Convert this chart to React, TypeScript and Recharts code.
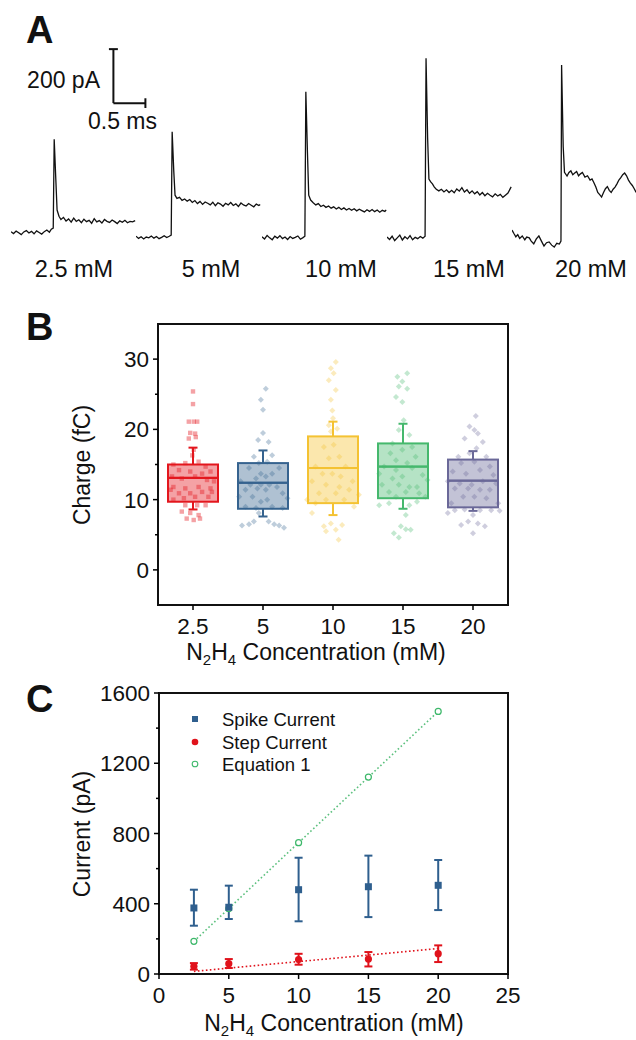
import {
  Bar,
  ComposedChart,
  ErrorBar,
  Line,
  LineChart,
  ReferenceArea,
  ReferenceLine,
  Scatter,
  XAxis,
  YAxis,
} from "recharts";

const FONT = '"Liberation Sans", Arial, sans-serif';

// ---- Panel A: single-event traces, [time (ms), current (pA)] ----
const trace25: [number, number][] = [
  [0.0, 5], [0.04, -2], [0.08, 7], [0.12, 1], [0.16, -6], [0.2, 4], [0.24, 9], [0.28, 0],
  [0.32, 6], [0.36, -3], [0.4, 8], [0.44, 2], [0.48, -4], [0.52, 5], [0.56, 11], [0.6, 3],
  [0.63, 14], [0.66, 18], [0.675, 347], [0.7, 200], [0.72, 85], [0.75, 62], [0.78, 50],
  [0.82, 58], [0.86, 44], [0.9, 52], [0.94, 40], [0.98, 55], [1.02, 43], [1.06, 49],
  [1.1, 38], [1.14, 51], [1.18, 42], [1.22, 47], [1.26, 36], [1.3, 53], [1.34, 41],
  [1.38, 46], [1.42, 37], [1.46, 50], [1.5, 43], [1.54, 39], [1.58, 48], [1.62, 42],
  [1.66, 35], [1.7, 45], [1.74, 40], [1.78, 47], [1.82, 38], [1.86, 43], [1.9, 41], [1.94, 46],
];
const trace5: [number, number][] = [
  [0.0, -12], [0.04, -20], [0.08, -14], [0.12, -22], [0.16, -15], [0.2, -18], [0.24, -11],
  [0.28, -19], [0.32, -13], [0.36, -21], [0.4, -16], [0.44, -10], [0.48, -17], [0.52, -12],
  [0.55, -8], [0.565, 375], [0.59, 230], [0.61, 140], [0.64, 128], [0.68, 132], [0.72, 121],
  [0.76, 126], [0.8, 118], [0.84, 124], [0.88, 113], [0.92, 120], [0.96, 109], [1.0, 117],
  [1.04, 106], [1.08, 115], [1.12, 110], [1.16, 104], [1.2, 114], [1.24, 101], [1.28, 112],
  [1.32, 107], [1.36, 99], [1.4, 110], [1.44, 104], [1.48, 113], [1.52, 102], [1.56, 108],
  [1.6, 98], [1.64, 111], [1.68, 104], [1.72, 100], [1.76, 109], [1.8, 103], [1.84, 97],
  [1.88, 107], [1.92, 102], [1.94, 106],
];
const trace10: [number, number][] = [
  [0.0, -14], [0.04, -22], [0.08, -9], [0.12, -18], [0.16, -25], [0.2, -12], [0.24, -19],
  [0.28, -10], [0.32, -21], [0.36, -15], [0.4, -24], [0.44, -13], [0.48, -20], [0.52, -16],
  [0.56, -11], [0.6, -23], [0.64, -17], [0.67, -12], [0.685, 523], [0.71, 300], [0.73, 140],
  [0.76, 122], [0.8, 112], [0.84, 104], [0.88, 109], [0.92, 98], [0.96, 103], [1.0, 95],
  [1.04, 100], [1.08, 92], [1.12, 97], [1.16, 89], [1.2, 95], [1.24, 87], [1.28, 93],
  [1.32, 85], [1.36, 91], [1.4, 84], [1.44, 90], [1.48, 82], [1.52, 88], [1.56, 83],
  [1.6, 78], [1.64, 86], [1.68, 80], [1.72, 87], [1.76, 79], [1.8, 85], [1.84, 77],
  [1.88, 84], [1.92, 80], [1.94, 86],
];
const trace15: [number, number][] = [
  [0.0, -15], [0.04, -24], [0.08, -12], [0.12, -28], [0.16, -18], [0.2, -8], [0.24, -26],
  [0.28, -14], [0.32, -22], [0.36, -10], [0.4, -25], [0.44, -16], [0.48, -21], [0.52, -13],
  [0.56, -19], [0.595, -12], [0.61, 647], [0.635, 350], [0.655, 200], [0.68, 190], [0.71, 182],
  [0.74, 170], [0.77, 162], [0.81, 156], [0.85, 162], [0.89, 152], [0.93, 160], [0.97, 150],
  [1.01, 158], [1.05, 149], [1.09, 163], [1.13, 155], [1.17, 168], [1.21, 152], [1.25, 160],
  [1.29, 147], [1.33, 156], [1.37, 145], [1.41, 153], [1.45, 141], [1.49, 150], [1.53, 138],
  [1.57, 147], [1.61, 140], [1.65, 134], [1.69, 145], [1.73, 137], [1.77, 143], [1.81, 132],
  [1.85, 140], [1.89, 148], [1.94, 171],
];
const trace20: [number, number][] = [
  [0.0, 11], [0.03, -2], [0.06, -14], [0.09, -6], [0.12, -20], [0.16, -11], [0.2, -25],
  [0.23, -15], [0.27, -18], [0.3, -30], [0.34, -40], [0.38, -22], [0.42, -11], [0.46, -30],
  [0.5, -48], [0.54, -36], [0.58, -33], [0.62, -45], [0.66, -52], [0.7, -38], [0.74, -41],
  [0.765, -30], [0.775, 622], [0.8, 320], [0.82, 225], [0.86, 211], [0.89, 224], [0.92, 230],
  [0.95, 216], [0.98, 222], [1.01, 228], [1.04, 212], [1.07, 219], [1.1, 224], [1.14, 207],
  [1.18, 212], [1.22, 196], [1.25, 200], [1.28, 186], [1.31, 170], [1.34, 150], [1.37, 142],
  [1.4, 133], [1.43, 150], [1.46, 164], [1.49, 172], [1.52, 158], [1.55, 150], [1.58, 162],
  [1.61, 170], [1.64, 182], [1.67, 196], [1.7, 205], [1.73, 216], [1.76, 222], [1.79, 212],
  [1.82, 196], [1.85, 185], [1.88, 176], [1.91, 164], [1.94, 150],
];
const traceLabels = ["2.5 mM", "5 mM", "10 mM", "15 mM", "20 mM"];

// ---- Panel B: charge per event (fC) ----
const concLabels = ["2.5", "5", "10", "15", "20"];
const whiskerLow = [8.6, 7.6, 7.8, 8.7, 8.4];
const quart1 = [9.7, 8.7, 9.5, 10.2, 8.9];
const median = [13.1, 12.4, 14.5, 14.7, 12.7];
const quart3 = [15.0, 15.2, 19.0, 18.0, 15.7];
const whiskerHigh = [17.4, 17.0, 21.1, 20.8, 16.9];

// [jitter offset within category, charge]
const charge25: [number, number][] = [
  [0, 25.4], [0, 23.6], [-0.06, 21.1], [0.01, 21.1], [0.06, 21.1], [-0.04, 19.5], [0.03, 19.4],
  [-0.06, 18.7], [0.04, 18.9], [0.01, 17.1], [-0.01, 16.3], [-0.28, 15.0], [-0.11, 15.2],
  [0.08, 15.4], [0.18, 14.7], [-0.2, 14.2], [-0.04, 14.0], [0.13, 13.7], [0.25, 14.0],
  [-0.3, 13.3], [-0.16, 13.0], [0.03, 13.3], [0.2, 12.8], [0.3, 12.6], [-0.28, 11.8],
  [-0.11, 11.6], [0.08, 11.8], [0.25, 11.6], [-0.32, 11.4], [-0.2, 10.9], [-0.04, 10.9],
  [0.13, 11.1], [0.27, 11.1], [-0.13, 10.2], [0.03, 10.4], [0.22, 10.4], [-0.28, 10.0],
  [-0.11, 9.2], [0.06, 9.2], [0.18, 9.2], [-0.16, 8.3], [-0.04, 8.1], [0.08, 7.8],
  [-0.09, 7.3], [0.01, 7.1], [0.1, 7.3],
];
const charge5: [number, number][] = [
  [0.04, 25.8], [-0.03, 24.2], [0, 22.8], [0, 19.5], [-0.07, 18.5], [0.08, 18.2], [-0.13, 16.1],
  [0.13, 16.3], [-0.06, 15.2], [0.06, 15.4], [0.23, 14.5], [-0.2, 14.5], [-0.03, 13.7],
  [0.13, 13.7], [-0.1, 13.0], [0.04, 13.3], [-0.32, 12.6], [-0.18, 12.1], [-0.03, 12.1],
  [0.09, 12.1], [0.2, 11.8], [-0.25, 11.4], [-0.08, 11.6], [0.04, 11.4], [0.28, 10.9],
  [-0.34, 10.4], [-0.15, 10.4], [0.35, 10.2], [-0.03, 9.7], [0.06, 10.0], [-0.25, 9.0],
  [-0.1, 8.8], [0.13, 9.0], [0.28, 8.8], [-0.06, 8.1], [-0.3, 6.3], [-0.2, 6.5], [-0.13, 6.9],
  [0.08, 6.9], [0.16, 6.5], [0.23, 6.3], [0.3, 6.0],
];
const charge10: [number, number][] = [
  [0.04, 29.6], [-0.03, 28.7], [0.01, 28.0], [-0.06, 27.0], [0.04, 25.6], [-0.03, 24.2],
  [-0.01, 22.7], [0, 21.6], [-0.06, 20.6], [0.06, 20.1], [-0.03, 19.7], [-0.13, 17.5],
  [0.01, 17.8], [0.09, 16.1], [-0.06, 15.9], [-0.25, 14.7], [0.18, 14.7], [-0.15, 13.7],
  [-0.01, 13.7], [0.11, 13.3], [-0.3, 12.6], [0.28, 12.6], [-0.1, 12.1], [0.09, 11.8],
  [0.23, 11.4], [-0.2, 10.9], [0.04, 10.9], [0.37, 10.7], [-0.37, 10.0], [-0.1, 10.0],
  [0.16, 10.0], [-0.25, 9.5], [0.3, 9.0], [-0.3, 8.1], [-0.13, 6.2], [-0.03, 6.6],
  [0.04, 5.7], [0.13, 6.4], [-0.1, 5.5], [0.08, 4.3],
];
const charge15: [number, number][] = [
  [-0.08, 27.5], [0.06, 28.0], [-0.01, 26.8], [-0.06, 26.1], [0.06, 25.8], [-0.1, 24.6],
  [-0.01, 23.9], [0.01, 21.3], [-0.06, 19.9], [0.09, 19.2], [-0.15, 18.0], [0.13, 17.5],
  [-0.18, 16.6], [-0.01, 17.1], [0.18, 16.1], [-0.1, 15.6], [0.06, 15.2], [-0.27, 14.7],
  [-0.1, 14.2], [0.13, 14.5], [0.28, 13.5], [-0.34, 13.7], [-0.15, 13.0], [-0.01, 13.3],
  [0.35, 12.8], [-0.3, 12.1], [-0.06, 12.1], [0.09, 11.8], [0.2, 11.8], [-0.2, 11.1],
  [0.04, 11.1], [0.23, 10.9], [-0.1, 10.4], [0.32, 10.4], [-0.34, 9.2], [-0.2, 9.5],
  [0.09, 9.2], [0.2, 9.7], [0.04, 7.8], [-0.03, 6.2], [0.04, 5.8], [0.11, 5.7],
  [-0.13, 5.2], [-0.06, 4.6],
];
const charge20: [number, number][] = [
  [0.04, 21.9], [-0.05, 20.4], [0.02, 19.9], [0.07, 19.4], [-0.12, 18.7], [0.14, 18.2],
  [0.05, 17.3], [-0.05, 16.6], [-0.21, 16.1], [0.19, 16.1], [-0.17, 15.2], [0.02, 15.4],
  [0.24, 14.7], [-0.29, 14.0], [-0.1, 13.7], [0.1, 14.2], [0.29, 13.5], [-0.36, 12.6],
  [-0.19, 12.3], [-0.02, 12.1], [0.14, 12.6], [0.33, 12.3], [-0.26, 11.6], [-0.07, 11.6],
  [0.1, 11.4], [0.24, 11.4], [-0.14, 10.4], [0.02, 10.4], [0.19, 10.2], [-0.31, 9.5],
  [0.36, 9.5], [-0.36, 8.1], [-0.26, 8.5], [-0.12, 8.6], [0.1, 8.5], [0.26, 8.5],
  [0.38, 8.4], [0, 7.8], [-0.17, 6.4], [-0.07, 6.9], [0.07, 6.6], [0.17, 6.2], [0, 5.2],
];

// ---- Panel C: current vs concentration ----
const concC = [2.5, 5, 10, 15, 20];
const spikeMean = [376, 380, 480, 497, 505];
const spikeLo = [275, 313, 300, 324, 364];
const spikeHi = [480, 503, 662, 674, 649];
const stepMean = [44, 59, 82, 85, 116];
const stepLo = [25, 34, 53, 43, 68];
const stepHi = [62, 85, 115, 125, 163];
const equation1 = [186, 373, 748, 1121, 1495];
const stepFitX = [2.5, 20];
const stepFitY = [15, 145];

// ---- styling ----
const BOX_COLORS = ["#e3161d", "#36638f", "#f4c232", "#45b86d", "#6a6898"];
const BLUE = "#2f5f8e";
const RED = "#e0121b";
const GREEN = "#3db86a";
const traceLefts = [11, 136, 262, 387, 512];
const traceLabelX = [74, 211, 341, 469, 591];

const traces = [trace25, trace5, trace10, trace15, trace20].map((tr) =>
  tr.map(([t, v]) => ({ t, v })),
);

const boxTable = concLabels.map((cat, i) => ({
  cat,
  base: whiskerLow[i],
  lowW: quart1[i] - whiskerLow[i],
  lowBox: median[i] - quart1[i],
  highBox: quart3[i] - median[i],
  highW: whiskerHigh[i] - quart3[i],
}));

const chargePoints = [charge25, charge5, charge10, charge15, charge20].flatMap((pts, g) =>
  pts.map(([o, v]) => ({ x: g + 0.5 + o, y: v, g })),
);

const spikeData = concC.map((x, i) => ({ x, y: spikeMean[i], err: [spikeMean[i] - spikeLo[i], spikeHi[i] - spikeMean[i]] }));
const stepData = concC.map((x, i) => ({ x, y: stepMean[i], err: [stepMean[i] - stepLo[i], stepHi[i] - stepMean[i]] }));
const eqData = concC.map((x, i) => ({ x, y: equation1[i] }));
const stepFit = stepFitX.map((x, i) => ({ x, y: stepFitY[i] }));

// ---- small render helpers ----
function yTick(majors: number[]) {
  return (p: any) => {
    const v = p.payload.value;
    const major = majors.includes(v);
    return (
      <g>
        <line x1={p.x} x2={p.x - (major ? 5 : 3)} y1={p.y} y2={p.y} stroke="#000" strokeWidth={1.5} />
        {major && (
          <text x={p.x - 9} y={p.y} dy="0.36em" textAnchor="end" fontSize={22.5} fontFamily={FONT} fill="#111">
            {v}
          </text>
        )}
      </g>
    );
  };
}

function xTick(fmt: (v: number) => string) {
  return (p: any) => (
    <g>
      <line x1={p.x} x2={p.x} y1={p.y} y2={p.y + 5} stroke="#000" strokeWidth={1.5} />
      <text x={p.x} y={p.y + 29} textAnchor="middle" fontSize={22.5} fontFamily={FONT} fill="#111">
        {fmt(p.payload.value)}
      </text>
    </g>
  );
}

const whisker = (upper: boolean) => (p: any) => {
  const c = BOX_COLORS[p.index];
  const cx = p.x + p.width / 2;
  const capY = upper ? p.y : p.y + p.height;
  return (
    <g>
      <line x1={cx} x2={cx} y1={p.y} y2={p.y + p.height} stroke={c} strokeWidth={2} />
      <line x1={cx - 4.5} x2={cx + 4.5} y1={capY} y2={capY} stroke={c} strokeWidth={2} />
    </g>
  );
};

const boxHalf = (p: any) => {
  const c = BOX_COLORS[p.index];
  return <rect x={p.x} y={p.y} width={p.width} height={p.height} fill={c} fillOpacity={0.4} stroke={c} strokeWidth={2} />;
};

const chargeDot = (p: any) => {
  const c = BOX_COLORS[p.payload.g];
  if (p.payload.g === 0) {
    return <rect x={p.cx - 2.2} y={p.cy - 2.2} width={4.4} height={4.4} fill={c} fillOpacity={0.4} />;
  }
  return (
    <path
      d={`M${p.cx},${p.cy - 3} L${p.cx + 3},${p.cy} L${p.cx},${p.cy + 3} L${p.cx - 3},${p.cy} Z`}
      fill={c}
      fillOpacity={0.32}
    />
  );
};

const squareDot = (p: any) => <rect x={p.cx - 3.5} y={p.cy - 3.5} width={7} height={7} fill={BLUE} />;
const roundDot = (p: any) => <circle cx={p.cx} cy={p.cy} r={3.6} fill={RED} />;
const openDot = (p: any) => <circle cx={p.cx} cy={p.cy} r={3} fill="#fff" stroke={GREEN} strokeWidth={1.2} />;

function Trace({ data, left, scaleBar }: { data: { t: number; v: number }[]; left: number; scaleBar?: boolean }) {
  return (
    <div style={{ position: "absolute", left, top: 17 }}>
      <LineChart width={160} height={243} data={data} margin={{ top: 0, right: 0, bottom: 0, left: 0 }}>
        <XAxis type="number" dataKey="t" domain={[0, 2.5]} hide allowDataOverflow />
        <YAxis type="number" domain={[-100, 800]} hide allowDataOverflow />
        <Line dataKey="v" type="linear" stroke="#111" strokeWidth={1.3} dot={false} isAnimationActive={false} />
        {scaleBar && (
          <>
            <ReferenceLine segment={[{ x: 1.6, y: 481 }, { x: 1.6, y: 681 }]} stroke="#111" strokeWidth={2} ifOverflow="visible" />
            <ReferenceLine segment={[{ x: 1.53, y: 681 }, { x: 1.67, y: 681 }]} stroke="#111" strokeWidth={2} ifOverflow="visible" />
            <ReferenceLine segment={[{ x: 1.6, y: 481 }, { x: 2.1, y: 481 }]} stroke="#111" strokeWidth={2} ifOverflow="visible" />
            <ReferenceLine segment={[{ x: 2.1, y: 463 }, { x: 2.1, y: 499 }]} stroke="#111" strokeWidth={2} ifOverflow="visible" />
          </>
        )}
      </LineChart>
    </div>
  );
}

function PanelB() {
  return (
    <div style={{ position: "absolute", left: 0, top: 290 }}>
      <ComposedChart width={636} height={360} data={boxTable} margin={{ top: 34, right: 128, bottom: 15, left: 98 }}>
        <XAxis
          xAxisId="num"
          type="number"
          dataKey="x"
          domain={[0, 5]}
          ticks={[0.5, 1.5, 2.5, 3.5, 4.5]}
          interval={0}
          allowDataOverflow
          axisLine={false}
          tickLine={false}
          tickSize={0}
          tickMargin={0}
          height={30}
          tick={xTick((v) => concLabels[Math.round(v - 0.5)])}
        />
        <XAxis xAxisId="cat" dataKey="cat" type="category" hide height={0} />
        <YAxis
          type="number"
          domain={[-5, 35]}
          ticks={[0, 5, 10, 15, 20, 25, 30]}
          interval={0}
          allowDataOverflow
          axisLine={false}
          tickLine={false}
          tickSize={0}
          tickMargin={0}
          width={60}
          tick={yTick([0, 10, 20, 30])}
        />
        <Bar xAxisId="cat" stackId="box" dataKey="base" fill="transparent" barSize={50} isAnimationActive={false} />
        <Bar xAxisId="cat" stackId="box" dataKey="lowW" barSize={50} shape={whisker(false)} isAnimationActive={false} />
        <Bar xAxisId="cat" stackId="box" dataKey="lowBox" barSize={50} shape={boxHalf} isAnimationActive={false} />
        <Bar xAxisId="cat" stackId="box" dataKey="highBox" barSize={50} shape={boxHalf} isAnimationActive={false} />
        <Bar xAxisId="cat" stackId="box" dataKey="highW" barSize={50} shape={whisker(true)} isAnimationActive={false} />
        <Scatter xAxisId="num" data={chargePoints} dataKey="y" shape={chargeDot} isAnimationActive={false} />
        <ReferenceArea xAxisId="num" x1={0} x2={5} y1={-5} y2={35} fill="none" fillOpacity={0} stroke="#111" strokeWidth={2} ifOverflow="visible" />
      </ComposedChart>
    </div>
  );
}

function PanelC() {
  return (
    <div style={{ position: "absolute", left: 0, top: 665 }}>
      <ComposedChart width={636} height={375} margin={{ top: 28, right: 128, bottom: 36, left: 99 }}>
        <XAxis
          type="number"
          dataKey="x"
          domain={[0, 25]}
          ticks={[0, 5, 10, 15, 20, 25]}
          interval={0}
          allowDataOverflow
          axisLine={false}
          tickLine={false}
          tickSize={0}
          tickMargin={0}
          height={30}
          tick={xTick((v) => String(v))}
        />
        <YAxis
          type="number"
          domain={[0, 1600]}
          ticks={[0, 200, 400, 600, 800, 1000, 1200, 1400, 1600]}
          interval={0}
          allowDataOverflow
          axisLine={false}
          tickLine={false}
          tickSize={0}
          tickMargin={0}
          width={60}
          tick={yTick([0, 400, 800, 1200, 1600])}
        />
        <Line data={eqData} dataKey="y" type="linear" stroke="#5cc07e" strokeWidth={1.6} strokeDasharray="1.6 2.4" dot={false} isAnimationActive={false} />
        <Line data={stepFit} dataKey="y" type="linear" stroke={RED} strokeWidth={1.6} strokeDasharray="1.6 2.4" dot={false} isAnimationActive={false} />
        <Scatter data={eqData} dataKey="y" shape={openDot} isAnimationActive={false} />
        <Scatter data={stepData} dataKey="y" shape={roundDot} isAnimationActive={false}>
          <ErrorBar dataKey="err" direction="y" width={4} stroke={RED} strokeWidth={2} />
        </Scatter>
        <Scatter data={spikeData} dataKey="y" shape={squareDot} isAnimationActive={false}>
          <ErrorBar dataKey="err" direction="y" width={4} stroke={BLUE} strokeWidth={2} />
        </Scatter>
        <ReferenceArea x1={0} x2={25} y1={0} y2={1600} fill="none" fillOpacity={0} stroke="#111" strokeWidth={2} ifOverflow="visible" />
      </ComposedChart>
    </div>
  );
}

function XTitle({ x, y }: { x: number; y: number }) {
  return (
    <text x={x} y={y} textAnchor="middle" fontSize={23} fontFamily={FONT} fill="#111">
      N<tspan dy={5} fontSize={15}>2</tspan>
      <tspan dy={-5}>H</tspan>
      <tspan dy={5} fontSize={15}>4</tspan>
      <tspan dy={-5}> Concentration (mM)</tspan>
    </text>
  );
}

export default function App() {
  const legend = [
    { label: "Spike Current", y: 719, mark: <rect x={192} y={716} width={6} height={6} fill={BLUE} /> },
    { label: "Step Current", y: 742, mark: <circle cx={195} cy={742} r={3.3} fill={RED} /> },
    { label: "Equation 1", y: 764, mark: <circle cx={195} cy={764} r={2.8} fill="#fff" stroke={GREEN} strokeWidth={1.1} /> },
  ];
  return (
    <div
      style={{
        position: "absolute",
        left: 0,
        top: 0,
        width: 636,
        height: 1040,
        overflow: "hidden",
        background: "#fff",
        fontFamily: FONT,
      }}
    >
      {traces.map((d, i) => (
        <Trace key={i} data={d} left={traceLefts[i]} scaleBar={i === 0} />
      ))}
      <PanelB />
      <PanelC />
      <svg width={636} height={1040} style={{ position: "absolute", left: 0, top: 0, pointerEvents: "none" }}>
        <g fontFamily={FONT} fill="#111">
          <text x={26} y={43} fontSize={38} fontWeight="bold">A</text>
          <text x={26} y={340} fontSize={38} fontWeight="bold">B</text>
          <text x={26} y={712} fontSize={38} fontWeight="bold">C</text>
          <text x={100} y={88} fontSize={23} textAnchor="end">200 pA</text>
          <text x={88} y={129} fontSize={23}>0.5 ms</text>
          {traceLabels.map((t, i) => (
            <text key={t} x={traceLabelX[i]} y={277} fontSize={23.5} textAnchor="middle">
              {t}
            </text>
          ))}
          <text transform="translate(90,465) rotate(-90)" textAnchor="middle" fontSize={23}>
            Charge (fC)
          </text>
          <text transform="translate(90,834) rotate(-90)" textAnchor="middle" fontSize={23}>
            Current (pA)
          </text>
        </g>
        <XTitle x={316} y={660} />
        <XTitle x={334} y={1031} />
        {legend.map((l) => (
          <g key={l.label}>
            {l.mark}
            <text x={222} y={l.y + 6.5} fontSize={18.5} fontFamily={FONT} fill="#111">
              {l.label}
            </text>
          </g>
        ))}
      </svg>
    </div>
  );
}
